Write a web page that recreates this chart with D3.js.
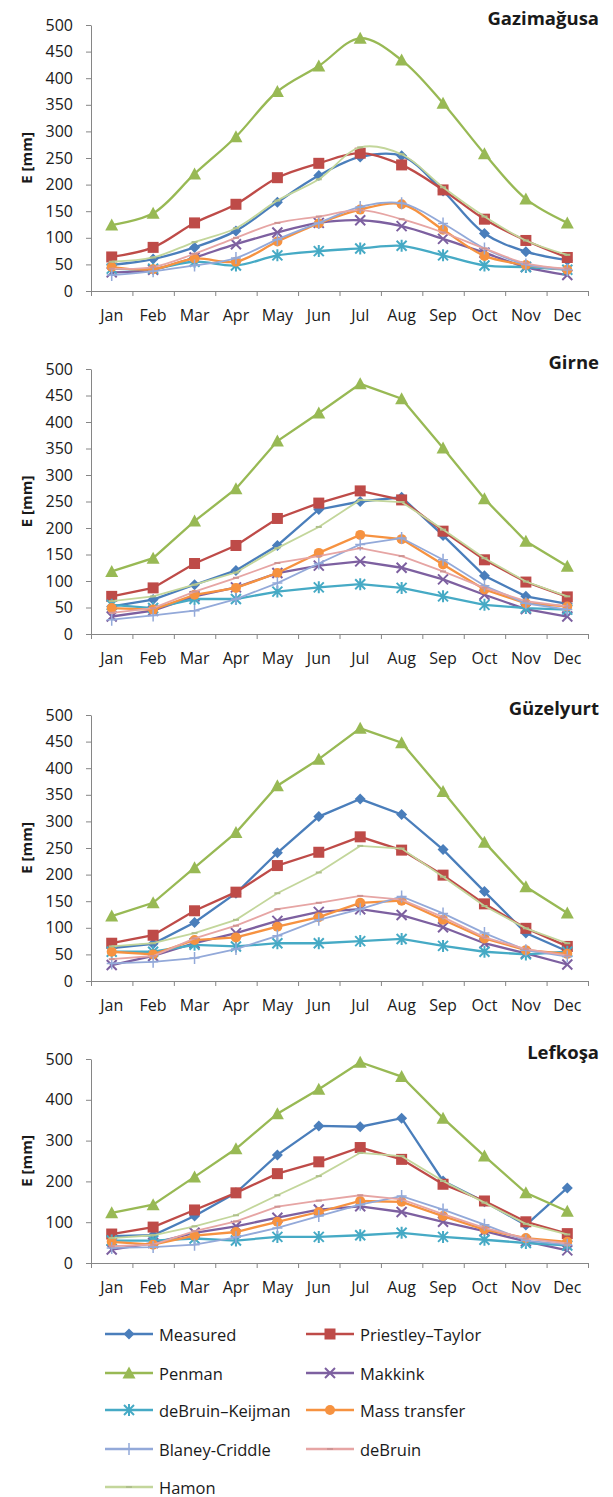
<!DOCTYPE html>
<html>
<head>
<meta charset="utf-8">
<script src="https://cdn.jsdelivr.net/npm/d3@7"></script>
<style>
    body { margin: 0; background: #fff; }
    svg text { font-family: "Open Sans", Lato, sans-serif; fill: #1a1a1a; }
</style>
</head>
<body>
<div id="chart"></div>
<script>
const months = ['Jan', 'Feb', 'Mar', 'Apr', 'May', 'Jun', 'Jul', 'Aug', 'Sep', 'Oct', 'Nov', 'Dec'];
const stations = ['Gazimağusa', 'Girne', 'Güzelyurt', 'Lefkoşa'];
const methods = ['Measured', 'Priestley–Taylor', 'Penman', 'Makkink', 'deBruin–Keijman', 'Mass transfer', 'Blaney-Criddle', 'deBruin', 'Hamon'];

// Gazimağusa
const gazMeasured  = [49, 60, 82, 113, 167, 217, 252, 254, 188, 108, 74, 58];
const gazPriestley = [64, 82, 128, 163, 213, 240, 259, 237, 190, 135, 95, 63];
const gazPenman    = [124, 146, 220, 290, 375, 423, 475, 434, 353, 258, 173, 128];
const gazMakkink   = [35, 40, 63, 88, 110, 128, 133, 122, 98, 72, 45, 30];
const gazKeijman   = [42, 42, 55, 48, 67, 75, 80, 85, 67, 48, 45, 40];
const gazMass      = [45, 41, 61, 55, 93, 127, 153, 163, 115, 66, 49, 40];
const gazBlaney    = [30, 37, 48, 62, 97, 128, 158, 165, 127, 80, 50, 40];
const gazDeBruin   = [42, 45, 70, 100, 128, 140, 152, 135, 110, 80, 52, 42];
const gazHamon     = [55, 63, 92, 118, 170, 210, 270, 257, 195, 140, 95, 68];

// Girne
const girMeasured  = [52, 65, 93, 120, 167, 235, 250, 258, 186, 110, 71, 57];
const girPriestley = [71, 87, 133, 167, 218, 247, 270, 253, 194, 140, 98, 70];
const girPenman    = [118, 143, 213, 274, 364, 417, 472, 444, 351, 255, 175, 128];
const girMakkink   = [33, 44, 71, 88, 115, 129, 137, 125, 103, 74, 47, 33];
const girKeijman   = [55, 49, 66, 66, 80, 88, 94, 87, 71, 55, 49, 46];
const girMass      = [49, 46, 74, 87, 115, 153, 187, 179, 131, 84, 58, 52];
const girBlaney    = [27, 35, 44, 66, 96, 133, 169, 181, 140, 91, 58, 46];
const girDeBruin   = [40, 49, 80, 106, 134, 147, 162, 147, 118, 87, 62, 52];
const girHamon     = [62, 71, 93, 116, 162, 202, 253, 249, 197, 143, 99, 71];

// Güzelyurt
const guzMeasured  = [62, 70, 110, 165, 241, 309, 342, 313, 247, 168, 90, 56];
const guzPriestley = [71, 86, 132, 167, 217, 242, 271, 246, 199, 145, 99, 65];
const guzPenman    = [122, 147, 213, 279, 367, 417, 475, 448, 356, 261, 177, 128];
const guzMakkink   = [30, 47, 71, 90, 113, 130, 135, 124, 101, 71, 52, 31];
const guzKeijman   = [55, 55, 68, 65, 71, 71, 75, 79, 66, 55, 50, 55];
const guzMass      = [55, 50, 77, 82, 102, 120, 147, 151, 115, 80, 58, 51];
const guzBlaney    = [33, 36, 43, 60, 85, 115, 135, 159, 127, 90, 58, 46];
const guzDeBruin   = [41, 47, 80, 104, 135, 147, 160, 153, 120, 82, 60, 48];
const guzHamon     = [65, 71, 90, 115, 165, 204, 254, 249, 196, 141, 99, 71];

// Lefkoşa
const lefMeasured  = [66, 68, 115, 172, 265, 336, 334, 355, 201, 150, 93, 184];
const lefPriestley = [71, 88, 130, 172, 219, 248, 283, 254, 193, 152, 101, 72];
const lefPenman    = [123, 143, 211, 280, 366, 426, 492, 457, 355, 262, 172, 127];
const lefMakkink   = [33, 49, 74, 90, 111, 131, 139, 125, 101, 78, 53, 31];
const lefKeijman   = [55, 55, 60, 55, 64, 64, 68, 74, 64, 57, 49, 43];
const lefMass      = [52, 45, 67, 76, 101, 125, 152, 150, 115, 82, 61, 52];
const lefBlaney    = [37, 39, 45, 63, 86, 115, 143, 164, 131, 94, 55, 45];
const lefDeBruin   = [41, 45, 78, 102, 138, 153, 166, 156, 120, 86, 60, 48];
const lefHamon     = [61, 68, 90, 117, 166, 213, 270, 262, 201, 148, 96, 70];

const stationData = [
    [gazMeasured, gazPriestley, gazPenman, gazMakkink, gazKeijman, gazMass, gazBlaney, gazDeBruin, gazHamon],
    [girMeasured, girPriestley, girPenman, girMakkink, girKeijman, girMass, girBlaney, girDeBruin, girHamon],
    [guzMeasured, guzPriestley, guzPenman, guzMakkink, guzKeijman, guzMass, guzBlaney, guzDeBruin, guzHamon],
    [lefMeasured, lefPriestley, lefPenman, lefMakkink, lefKeijman, lefMass, lefBlaney, lefDeBruin, lefHamon]
];

const styles = [
    { color: '#4a7ebb', marker: 'diamond' },
    { color: '#be4b48', marker: 'square' },
    { color: '#98b954', marker: 'triangle' },
    { color: '#7d60a0', marker: 'cross' },
    { color: '#46aac5', marker: 'star' },
    { color: '#f69240', marker: 'circle' },
    { color: '#93a9d9', marker: 'plus' },
    { color: '#e6a5a4', marker: 'dash' },
    { color: '#c3d69b', marker: 'dash' }
];

const panels = [
    { top: 25, bottom: 291, step: 50, smooth: true },
    { top: 369, bottom: 634, step: 50, smooth: false },
    { top: 715, bottom: 981, step: 50, smooth: false },
    { top: 1059, bottom: 1263, step: 100, smooth: false }
];

const left = 91, right = 588;

const svg = d3.select('#chart').append('svg')
    .attr('width', 613)
    .attr('height', 1497);

function drawMarker(g, type, color, x, y) {
    const s = 5.5;
    if (type === 'diamond') {
        g.append('path').attr('d', `M${x},${y - s}L${x + s},${y}L${x},${y + s}L${x - s},${y}Z`).attr('fill', color);
    } else if (type === 'square') {
        g.append('rect').attr('x', x - 5.5).attr('y', y - 5.5).attr('width', 11).attr('height', 11).attr('fill', color);
    } else if (type === 'triangle') {
        g.append('path').attr('d', `M${x},${y - 6.5}L${x + 6.5},${y + 5.5}L${x - 6.5},${y + 5.5}Z`).attr('fill', color);
    } else if (type === 'circle') {
        g.append('circle').attr('cx', x).attr('cy', y).attr('r', 5).attr('fill', color);
    } else if (type === 'cross') {
        g.append('path').attr('d', `M${x - 5},${y - 5}L${x + 5},${y + 5}M${x - 5},${y + 5}L${x + 5},${y - 5}`)
            .attr('stroke', color).attr('stroke-width', 2);
    } else if (type === 'star') {
        g.append('path').attr('d', `M${x - 5},${y - 5}L${x + 5},${y + 5}M${x - 5},${y + 5}L${x + 5},${y - 5}M${x},${y - 6}L${x},${y + 6}`)
            .attr('stroke', color).attr('stroke-width', 2);
    } else if (type === 'plus') {
        g.append('path').attr('d', `M${x},${y - 6}L${x},${y + 6}M${x - 5},${y}L${x + 5},${y}`)
            .attr('stroke', color).attr('stroke-width', 1.5);
    } else if (type === 'dash') {
        g.append('path').attr('d', `M${x - 3},${y}L${x + 3},${y}`)
            .attr('stroke', d3.color(color).darker(0.3)).attr('stroke-width', 2);
    }
}

panels.forEach((p, pi) => {

    const g = svg.append('g');

    const xScale = d3.scaleBand().domain(months).range([left, right]);
    const xEdges = d3.scaleLinear().domain([0, 12]).range([left, right]);
    const yScale = d3.scaleLinear().domain([0, 500]).range([p.bottom, p.top]);

    // y axis
    const yAxis = g.append('g')
        .attr('transform', `translate(${left},0)`)
        .call(d3.axisLeft(yScale).tickValues(d3.range(0, 501, p.step)).tickSize(5).tickPadding(13).tickSizeOuter(0));
    yAxis.selectAll('text').style('font-size', '16px');
    yAxis.selectAll('line, path').attr('stroke', '#868686');

    // x axis: boundary ticks + labels
    const xTicks = g.append('g')
        .attr('transform', `translate(0,${p.bottom})`)
        .call(d3.axisBottom(xEdges).tickValues(d3.range(0, 13)).tickFormat('').tickSize(5).tickSizeOuter(0));
    xTicks.selectAll('line, path').attr('stroke', '#868686');

    const xLabels = g.append('g')
        .attr('transform', `translate(0,${p.bottom})`)
        .call(d3.axisBottom(xScale).tickSize(0).tickPadding(19));
    xLabels.select('.domain').remove();
    xLabels.selectAll('text').style('font-size', '16px');

    // station title
    g.append('text')
        .attr('x', 599)
        .attr('y', p.top - 8)
        .attr('text-anchor', 'end')
        .attr('dominant-baseline', 'central')
        .style('font-size', '18.5px')
        .style('font-weight', 'bold')
        .text(stations[pi]);

    // y axis title
    g.append('text')
        .attr('transform', `translate(26,${(p.top + p.bottom) / 2}) rotate(-90)`)
        .attr('text-anchor', 'middle')
        .attr('dominant-baseline', 'central')
        .style('font-size', '15px')
        .style('font-weight', 'bold')
        .text('E [mm]');

    const line = d3.line()
        .x((d, i) => xScale(months[i]) + xScale.bandwidth() / 2)
        .y(d => yScale(d))
        .curve(p.smooth ? d3.curveCatmullRom : d3.curveLinear);

    stationData[pi].forEach((values, si) => {
        const st = styles[si];
        const sg = g.append('g');
        sg.append('path')
            .attr('d', line(values))
            .attr('fill', 'none')
            .attr('stroke', st.color)
            .attr('stroke-width', si >= 6 ? 1.8 : 2.3);
        values.forEach((v, i) => {
            drawMarker(sg, st.marker, st.color, xScale(months[i]) + xScale.bandwidth() / 2, yScale(v));
        });
    });
});

// legend
const legendRows = [1334, 1373, 1410, 1449, 1487];
const legendCols = [105, 306];

methods.forEach((m, i) => {
    const x = legendCols[i % 2];
    const y = legendRows[Math.floor(i / 2)];
    const st = styles[i];
    const lg = svg.append('g');
    lg.append('line')
        .attr('x1', x).attr('x2', x + 48)
        .attr('y1', y).attr('y2', y)
        .attr('stroke', st.color)
        .attr('stroke-width', 2.3);
    drawMarker(lg, st.marker, st.color, x + 24, y);
    lg.append('text')
        .attr('x', x + 54)
        .attr('y', y)
        .attr('dominant-baseline', 'central')
        .style('font-size', '16.5px')
        .text(m);
});
</script>
</body>
</html>
